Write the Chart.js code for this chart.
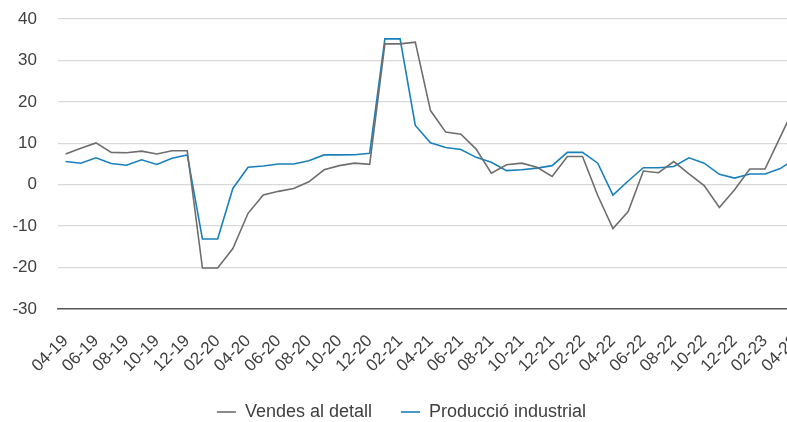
<!DOCTYPE html>
<html>
<head>
<meta charset="utf-8">
<script src="https://cdn.jsdelivr.net/npm/chart.js@4.4.1/dist/chart.umd.min.js"></script>
<style>
  html, body { margin: 0; padding: 0; background: #fff; overflow: hidden; }
  #wrap { width: 805px; height: 422px; }
</style>
</head>
<body>
<div id="wrap"><canvas id="chart"></canvas></div>
<script>
// Monthly series, 04-19 to 04-23
const months = [
  '04-19', '05-19', '06-19', '07-19', '08-19', '09-19', '10-19', '11-19', '12-19',
  '01-20', '02-20', '03-20', '04-20', '05-20', '06-20', '07-20', '08-20', '09-20', '10-20', '11-20', '12-20',
  '01-21', '02-21', '03-21', '04-21', '05-21', '06-21', '07-21', '08-21', '09-21', '10-21', '11-21', '12-21',
  '01-22', '02-22', '03-22', '04-22', '05-22', '06-22', '07-22', '08-22', '09-22', '10-22', '11-22', '12-22',
  '01-23', '02-23', '03-23', '04-23'
];

const vendes = [
  7.4, 8.8, 10.1, 7.8, 7.7, 8.1, 7.4, 8.2, 8.2,
  -20.1, -20.1, -15.4, -6.9, -2.5, -1.6, -0.9, 0.7, 3.6, 4.6, 5.2, 4.9,
  34.0, 34.0, 34.4, 17.9, 12.7, 12.2, 8.6, 2.8, 4.8, 5.2, 4.2, 2.0,
  6.8, 6.8, -2.6, -10.6, -6.5, 3.3, 2.9, 5.6, 2.6, -0.2, -5.5, -1.2,
  3.8, 3.8, 11.5, 19.2
];

const produccio = [
  5.6, 5.2, 6.5, 5.1, 4.7, 6.0, 4.9, 6.4, 7.2,
  -13.1, -13.1, -0.9, 4.2, 4.5, 5.0, 5.0, 5.8, 7.2, 7.2, 7.25, 7.6,
  35.2, 35.2, 14.3, 10.1, 9.0, 8.5, 6.6, 5.4, 3.4, 3.6, 4.0, 4.6,
  7.8, 7.8, 5.2, -2.5, 0.9, 4.1, 4.1, 4.4, 6.5, 5.2, 2.5, 1.6,
  2.6, 2.6, 3.9, 6.3
];

const yMin = -30;
const yMax = 40;
const yStep = 10;

const font = { family: '"Liberation Sans", Arial, sans-serif', size: 17 };
const legendFont = { family: '"Liberation Sans", Arial, sans-serif', size: 18 };

new Chart(document.getElementById('chart'), {
  type: 'line',
  data: {
    labels: months,
    datasets: [
      {
        label: 'Vendes al detall',
        data: vendes,
        borderColor: '#6e6e6e',
        backgroundColor: '#6e6e6e',
        borderWidth: 1.6,
        pointRadius: 0,
        pointStyle: 'line',
        tension: 0
      },
      {
        label: 'Producció industrial',
        data: produccio,
        borderColor: '#1a80bb',
        backgroundColor: '#1a80bb',
        borderWidth: 1.6,
        pointRadius: 0,
        pointStyle: 'line',
        tension: 0
      }
    ]
  },
  options: {
    responsive: true,
    maintainAspectRatio: false,
    animation: false,
    layout: { padding: { top: 19, right: 2, bottom: 0, left: 0 } },
    scales: {
      x: {
        offset: true,
        grid: { display: false, drawTicks: false },
        border: { display: true, color: '#595959', width: 1.5 },
        ticks: {
          autoSkip: false,
          maxRotation: 45,
          minRotation: 45,
          padding: 22,
          color: '#404040',
          font: font,
          callback: function (val, i) {
            return i % 2 === 0 ? this.getLabelForValue(val) : '';
          }
        },
        afterFit: s => {
          s.height = 65;
          s.paddingLeft = 0;
          s.paddingRight = 0;
        }
      },
      y: {
        min: yMin,
        max: yMax,
        grid: { color: '#d9d9d9', lineWidth: 1.3, drawTicks: false },
        border: { display: false },
        ticks: {
          stepSize: yStep,
          padding: 21,
          color: '#404040',
          font: font
        },
        afterFit: s => {
          s.width = 58;
          s.paddingTop = 0;
          s.paddingBottom = 0;
        }
      }
    },
    plugins: {
      legend: {
        position: 'bottom',
        maxHeight: 48,
        labels: {
          usePointStyle: true,
          pointStyleWidth: 19,
          color: '#404040',
          font: legendFont,
          padding: 29
        }
      },
      tooltip: { enabled: false }
    }
  }
});
</script>
</body>
</html>
